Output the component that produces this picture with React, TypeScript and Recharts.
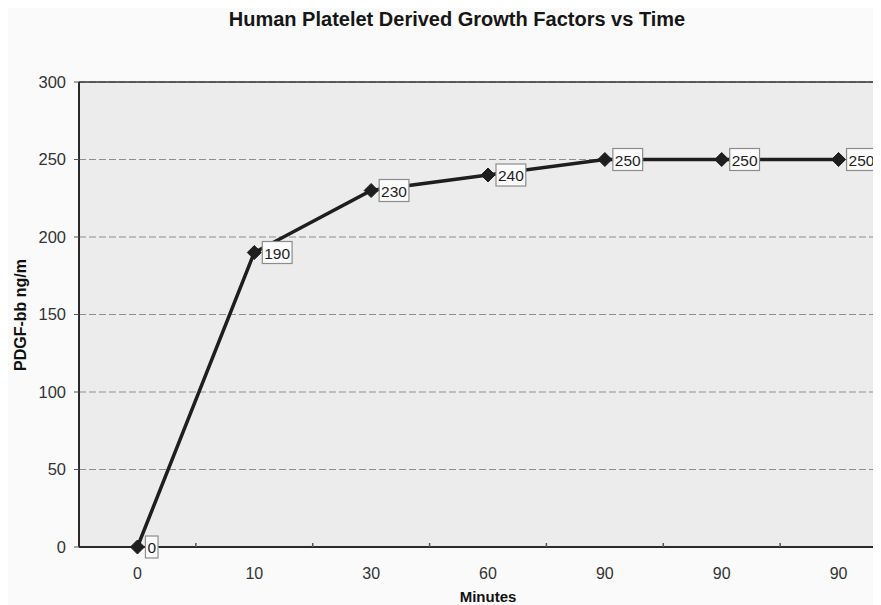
import { LineChart, Line, XAxis, YAxis, CartesianGrid, ReferenceLine, LabelList } from 'recharts';

// sample times (the chart repeats 90 for the last three readings)
const minutes = ['0', '10', '30', '60', '90', '90', '90'];
const pdgfValues = [0, 190, 230, 240, 250, 250, 250];
const yTicks = [0, 50, 100, 150, 200, 250, 300];

const data = minutes.map((m, i) => ({ slot: i, minutes: m, pdgf: pdgfValues[i] }));

const FONT = '"Liberation Sans", Arial, sans-serif';
const INK = '#1e1e1e';

const Diamond = (props: any) => {
    const { cx, cy } = props;
    if (cx == null || cy == null) return null;
    const r = 7;
    return (
        <polygon
            points={`${cx},${cy - r} ${cx + r},${cy} ${cx},${cy + r} ${cx - r},${cy}`}
            fill={INK}
            stroke={INK}
        />
    );
};

// boxed value sitting to the right of each point
const BoxLabel = (props: any) => {
    const { x, y, value } = props;
    const txt = String(value);
    const w = txt.length * 8.6 + 4;
    const left = x + 8;
    return (
        <g>
            <rect x={left} y={y - 11} width={w} height={22} fill="#fbfbfb" stroke="#8c8c8c" strokeWidth={1.2} />
            <text x={left + w / 2} y={y + 6} textAnchor="middle" fontFamily={FONT} fontSize={15.5} fill={INK}>
                {txt}
            </text>
        </g>
    );
};

// category label plus a small mark on the band boundary
const MinuteTick = (props: any) => {
    const { x, y, payload, width } = props;
    const step = width / minutes.length;
    const bx = x + step / 2;
    return (
        <g>
            <line x1={bx} x2={bx} y1={y - 4} y2={y} stroke="#555" strokeWidth={1.5} />
            <text x={x} y={y + 32} textAnchor="middle" fontFamily={FONT} fontSize={16} fill="#333">
                {minutes[payload.value]}
            </text>
        </g>
    );
};

export default function App() {
    return (
        <div style={{ position: 'relative', width: 873, height: 597, overflow: 'hidden', background: '#fafafa' }}>
            <div
                style={{
                    position: 'absolute',
                    top: 0,
                    left: 0,
                    width: 898,
                    textAlign: 'center',
                    fontFamily: FONT,
                    fontWeight: 'bold',
                    fontSize: 20,
                    color: '#161616',
                }}
            >
                Human Platelet Derived Growth Factors vs Time
            </div>
            <LineChart width={900} height={597} data={data} margin={{ top: 74, right: 11, left: 11, bottom: 28 }}>
                <CartesianGrid
                    vertical={false}
                    stroke="#8f8f8f"
                    strokeDasharray="7 3"
                    fill="#ececec"
                    fillOpacity={1}
                />
                <ReferenceLine y={300} stroke="#333" strokeWidth={1.5} />
                <XAxis
                    dataKey="slot"
                    type="category"
                    scale="band"
                    height={30}
                    tickSize={0}
                    tickMargin={0}
                    interval={0}
                    axisLine={{ stroke: '#2a2a2a', strokeWidth: 2 }}
                    tick={<MinuteTick />}
                    label={{
                        content: () => (
                            <text x={480} y={594} textAnchor="middle" fontFamily={FONT} fontWeight="bold" fontSize={15} fill="#111">
                                Minutes
                            </text>
                        ),
                    }}
                />
                <YAxis
                    width={60}
                    domain={[0, 300]}
                    ticks={yTicks}
                    tickSize={5}
                    tickMargin={8}
                    axisLine={{ stroke: '#2a2a2a', strokeWidth: 2 }}
                    tickLine={{ stroke: '#555' }}
                    tick={{ fill: '#333', fontFamily: FONT, fontSize: 16.5 }}
                    label={{
                        content: () => (
                            <text
                                x={18}
                                y={307}
                                transform="rotate(-90 18 307)"
                                textAnchor="middle"
                                fontFamily={FONT}
                                fontWeight="bold"
                                fontSize={16}
                                fill="#111"
                            >
                                PDGF-bb ng/m
                            </text>
                        ),
                    }}
                />
                <Line
                    type="linear"
                    dataKey="pdgf"
                    stroke={INK}
                    strokeWidth={3.5}
                    dot={<Diamond />}
                    activeDot={false}
                    isAnimationActive={false}
                >
                    <LabelList dataKey="pdgf" content={<BoxLabel />} />
                </Line>
            </LineChart>
        </div>
    );
}
